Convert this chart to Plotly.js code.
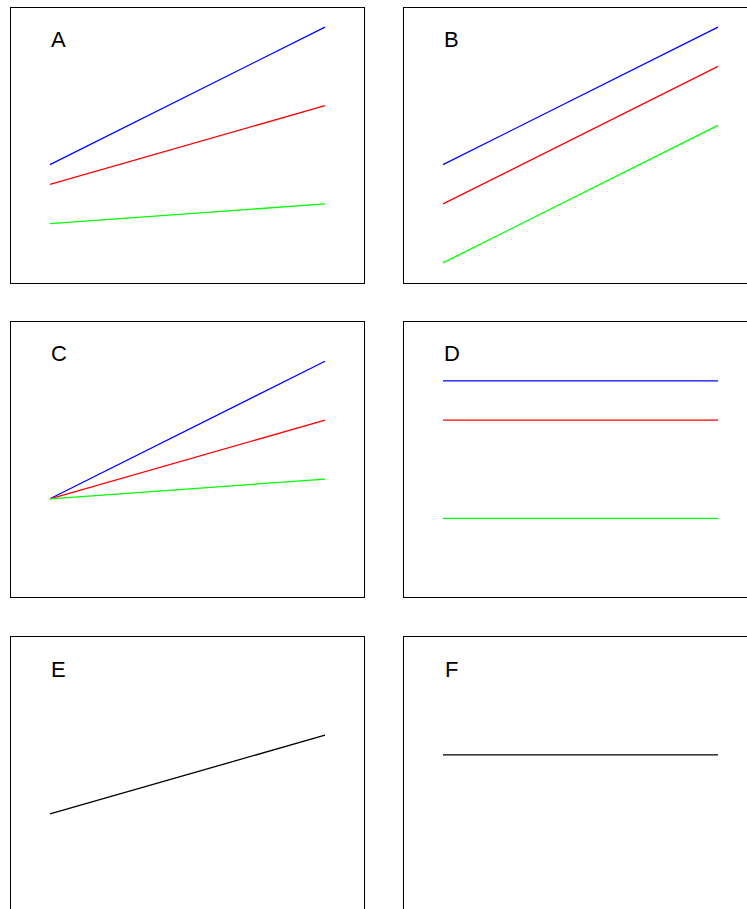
<!DOCTYPE html>
<html>
<head>
<meta charset="utf-8">
<script src="https://cdn.plot.ly/plotly-3.0.1.min.js"></script>
<style>
html, body { margin: 0; padding: 0; overflow: hidden; background: #fff; }
#chart { width: 767px; height: 921px; }
</style>
</head>
<body>
<div id="chart"></div>
<script>
// Data
const xPts = [0, 1];
const panelLabels = ["A", "B", "C", "D", "E", "F"];
const panelA = { blue: [3, 6.5], red: [2.5, 4.5], green: [1.5, 2] };
const panelB = { blue: [3, 6.5], red: [2, 5.5], green: [0.5, 4] };
const panelC = { blue: [2.5, 6], red: [2.5, 4.5], green: [2.5, 3] };
const panelD = { blue: [5.5, 5.5], red: [4.5, 4.5], green: [2, 2] };
const panelE = { black: [2.5, 4.5] };
const panelF = { black: [4, 4] };
const panels = [panelA, panelB, panelC, panelD, panelE, panelF];

const colorMap = { blue: "#0000ff", red: "#ff0000", green: "#00ff00", black: "#000000" };

const W = 767, H = 921;
const colPx = [[10.5, 364], [403.5, 757]];
const rowPx = [[7.5, 282.5], [322, 597], [637, 912]];

const traces = [];
const layout = {
  width: W, height: H,
  margin: { l: 0, r: 0, t: 0, b: 0 },
  paper_bgcolor: "#ffffff",
  plot_bgcolor: "#ffffff",
  showlegend: false,
  annotations: []
};

panels.forEach((p, i) => {
  const n = i + 1;
  const xa = n === 1 ? "x" : "x" + n;
  const ya = n === 1 ? "y" : "y" + n;
  const col = i % 2, row = Math.floor(i / 2);
  Object.keys(p).forEach(k => {
    traces.push({
      x: xPts, y: p[k], xaxis: xa, yaxis: ya,
      mode: "lines", type: "scatter",
      line: { color: colorMap[k], width: 1.3 },
      hoverinfo: "skip"
    });
  });
  const axCommon = {
    showgrid: false, zeroline: false, showticklabels: false, ticks: "",
    showline: true, mirror: true, linecolor: "#000000", linewidth: 1, fixedrange: true
  };
  layout[n === 1 ? "xaxis" : "xaxis" + n] = Object.assign({}, axCommon, {
    domain: [colPx[col][0] / W, colPx[col][1] / W],
    range: [-39.5 / 275, 1 + 39 / 275],
    anchor: ya
  });
  layout[n === 1 ? "yaxis" : "yaxis" + n] = Object.assign({}, axCommon, {
    domain: [1 - rowPx[row][1] / H, 1 - rowPx[row][0] / H],
    range: [0, 7],
    anchor: xa
  });
  layout.annotations.push({
    text: panelLabels[i],
    xref: xa + " domain", yref: ya + " domain",
    x: 48 / 353.5, y: 1 - 32 / 275,
    xanchor: "center", yanchor: "middle",
    showarrow: false,
    font: { family: "Liberation Sans, Arial, sans-serif", size: 22, color: "#000000" }
  });
});

Plotly.newPlot("chart", traces, layout, { staticPlot: true, displayModeBar: false });
</script>
</body>
</html>
